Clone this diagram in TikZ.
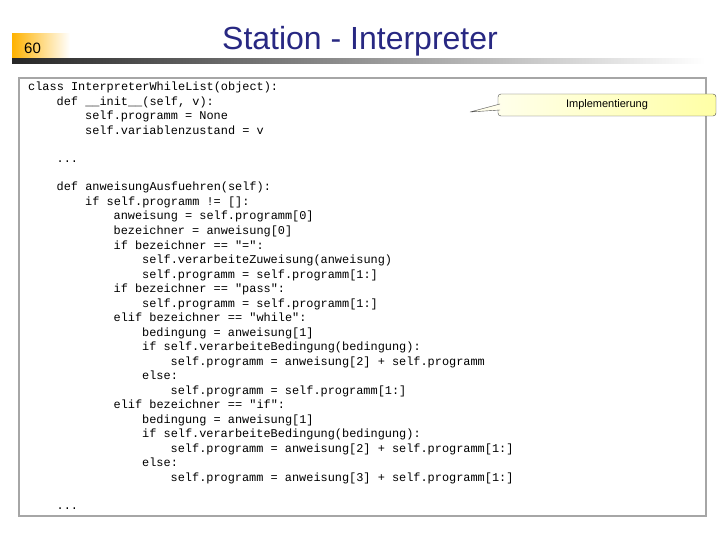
\documentclass[tikz,border=0pt]{standalone}
\usepackage{fontspec}
\setmainfont{Liberation Sans}
\newfontfamily\codefont{Liberation Mono}
\definecolor{titleblue}{RGB}{40,40,130}
\begin{document}
\begin{tikzpicture}[x=1pt,y=-1pt,
  code/.style={anchor=base west,inner sep=0,font=\codefont\fontsize{11.9}{12}\selectfont},
]
\useasboundingbox (0,0) rectangle (720,540);
\fill[white] (0,0) rectangle (720,540);
% number box
\shade[left color=orange!60!yellow,right color=white] (12,34) rectangle (70,60);
\node[anchor=base west,inner sep=0,font=\fontsize{15}{15}\selectfont] (num) at (24,54) {60};
\shade[left color=black!85,right color=white] (12,59) rectangle (705,64);
\node[anchor=base,inner sep=0,text=titleblue,font=\fontsize{32}{33}\selectfont] (title) at (360,50) {Station - Interpreter};
% code box
\draw[black!35,line width=1.2] (19,78) rectangle (706,516);
\def\ind{28.5}
\foreach \n/\y/\t in {
0/91/{class InterpreterWhileList(object):},
1/105.5/{def \_\_init\_\_(self, v):},
2/120/{self.programm = None},
2/134.5/{self.variablenzustand = v},
1/163/{...},
1/191/{def anweisungAusfuehren(self):},
2/205.5/{if self.programm != []:},
3/220/{anweisung = self.programm[0]},
3/234.5/{bezeichner = anweisung[0]},
3/249/{if bezeichner == "=":},
4/263.5/{self.verarbeiteZuweisung(anweisung)},
4/278/{self.programm = self.programm[1:]},
3/292.5/{if bezeichner == "pass":},
4/307/{self.programm = self.programm[1:]},
3/321.5/{elif bezeichner == "while":},
4/336/{bedingung = anweisung[1]},
4/350.5/{if self.verarbeiteBedingung(bedingung):},
5/365/{self.programm = anweisung[2] + self.programm},
4/379.5/{else:},
5/394/{self.programm = self.programm[1:]},
3/408.5/{elif bezeichner == "if":},
4/423/{bedingung = anweisung[1]},
4/437.5/{if self.verarbeiteBedingung(bedingung):},
5/452/{self.programm = anweisung[2] + self.programm[1:]},
4/466.5/{else:},
5/481/{self.programm = anweisung[3] + self.programm[1:]},
1/509/{...}}
  \node[code] at ({28+\ind*\n},\y) {\t};
% callout
\coordinate (tip) at (470,112);
\coordinate (pa) at (500,104);
\coordinate (pb) at (500,110);
\node[draw=black!70,rounded corners=3,left color=yellow!8,right color=yellow!35,
  minimum width=218,minimum height=22,inner sep=0,font=\fontsize{11}{12}\selectfont] (impl) at (607,105) {Implementierung};
\fill[yellow!8] (pa) -- (tip) -- (pb) -- ([xshift=1]pb) -- ([xshift=1]pa) -- cycle;
\draw[black!70] (pa) -- (tip) -- (pb);
\end{tikzpicture}
\end{document}
